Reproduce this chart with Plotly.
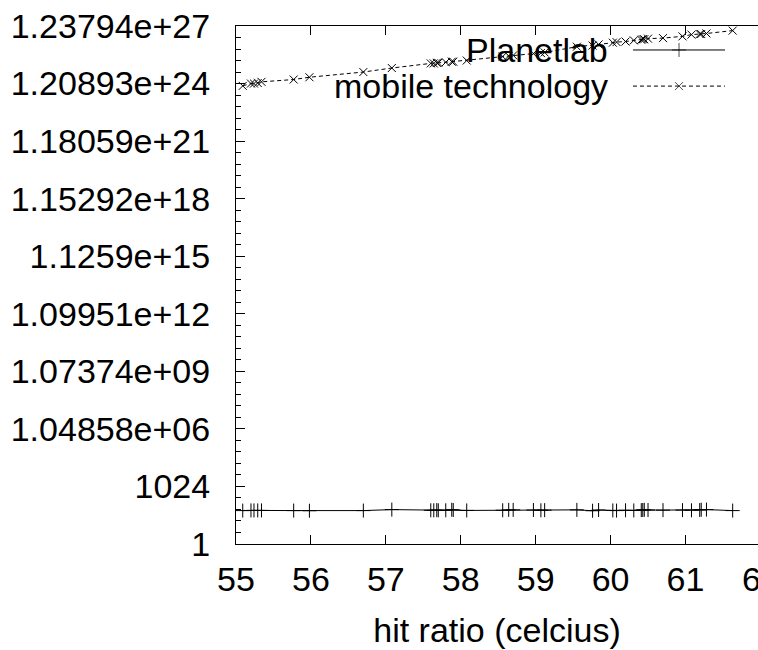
import plotly.graph_objects as go

# ---- data ----
hit_ratio = [55.09, 55.20, 55.24, 55.29, 55.34, 55.77, 55.98, 56.70, 57.08, 57.60,
             57.64, 57.68, 57.70, 57.80, 57.88, 57.90, 58.08, 58.56, 58.64, 58.70,
             58.97, 59.07, 59.12, 59.55, 59.76, 59.84, 60.03, 60.08, 60.20, 60.31,
             60.41, 60.43, 60.45, 60.50, 60.70, 60.96, 61.08, 61.19, 61.21, 61.28,
             61.63]

planetlab = [56, 57, 57, 57, 57, 56, 55, 56, 63, 58,
             58, 59, 58, 58, 62, 60, 57, 58, 61, 61,
             60, 58, 59, 61, 55, 60, 57, 56, 58, 57,
             59, 60, 61, 60, 59, 59, 58, 60, 62, 63,
             56]

mobile_technology = [9.16e23, 1.21e24, 1.21e24, 1.296e24, 1.488e24, 1.964e24, 2.591e24, 4.836e24, 7.856e24, 1.368e25,
                     1.368e25, 1.466e25, 1.466e25, 1.571e25, 1.684e25, 1.684e25, 1.934e25, 3.142e25, 3.368e25, 3.610e25,
                     4.444e25, 4.763e25, 5.105e25, 1.021e26, 1.173e26, 1.347e26, 1.658e26, 1.778e26, 1.905e26, 2.188e26,
                     2.345e26, 2.514e26, 2.514e26, 2.694e26, 2.888e26, 3.555e26, 4.377e26, 4.691e26, 4.691e26, 5.028e26,
                     7.110e26]

series_names = ["Planetlab", "mobile technology"]

x_ticks = [55, 56, 57, 58, 59, 60, 61]
y_tick_labels = ["1", "1024", "1.04858e+06", "1.07374e+09", "1.09951e+12",
                 "1.1259e+15", "1.15292e+18", "1.18059e+21", "1.20893e+24", "1.23794e+27"]
x_title = "hit ratio (celcius)"

# ---- figure ----
FONT = "Liberation Sans, Arial, Helvetica, sans-serif"
y_tick_vals = [2.0 ** (10 * i) for i in range(len(y_tick_labels))]
y_minor_vals = [2.0 ** k for k in range(0, 91, 2) if k % 10 != 0]

fig = go.Figure()
fig.add_trace(go.Scatter(
    x=hit_ratio, y=planetlab, mode="lines+markers", name=series_names[0],
    line=dict(color="black", width=1),
    marker=dict(symbol="cross-thin-open", size=10, line=dict(color="black", width=1)),
    showlegend=False, cliponaxis=False))
fig.add_trace(go.Scatter(
    x=hit_ratio, y=mobile_technology, mode="lines+markers", name=series_names[1],
    line=dict(color="black", width=1, dash="4px,3px"),
    marker=dict(symbol="x-thin-open", size=8, line=dict(color="black", width=1)),
    showlegend=False, cliponaxis=False))

# legend samples (gnuplot-style key: text left, sample right), on a hidden overlay axis
key_x = [0.7605, 0.8487, 0.9368]
fig.add_trace(go.Scatter(
    x=key_x, y=[0.9537] * 3, mode="lines+markers",
    line=dict(color="black", width=1),
    marker=dict(symbol="cross-thin-open", size=[0, 10, 0], line=dict(color="black", width=1)),
    xaxis="x2", yaxis="y2", showlegend=False, hoverinfo="skip"))
fig.add_trace(go.Scatter(
    x=key_x, y=[0.884] * 3, mode="lines+markers",
    line=dict(color="black", width=1, dash="4px,3px"),
    marker=dict(symbol="x-thin-open", size=[0, 8, 0], line=dict(color="black", width=1)),
    xaxis="x2", yaxis="y2", showlegend=False, hoverinfo="skip"))

annotations = [
    dict(text=series_names[0], xref="paper", yref="paper", x=0.7165, y=0.9537,
         xanchor="right", yanchor="middle", showarrow=False,
         font=dict(family=FONT, size=34, color="black")),
    dict(text=series_names[1], xref="paper", yref="paper", x=0.7165, y=0.884,
         xanchor="right", yanchor="middle", showarrow=False,
         font=dict(family=FONT, size=34, color="black")),
    # partially visible label of the next x tick (62), cut by the page edge
    dict(text="62", xref="paper", yref="paper", x=1.0057, y=-0.0676,
         xanchor="center", yanchor="middle", showarrow=False,
         font=dict(family=FONT, size=34, color="black")),
]

fig.update_layout(
    width=758, height=650,
    margin=dict(l=236, r=0, t=26, b=106, pad=0),
    paper_bgcolor="white", plot_bgcolor="white",
    font=dict(family=FONT, size=34, color="black"),
    showlegend=False,
    annotations=annotations,
    xaxis=dict(
        range=[55, 61.968], tickmode="array", tickvals=x_ticks,
        ticks="inside", ticklen=9, tickwidth=1, tickcolor="black",
        showline=True, linecolor="black", linewidth=1, mirror="ticks",
        showgrid=False, zeroline=False,
        tickfont=dict(family=FONT, size=34, color="black"),
        ticklabelstandoff=5,
        title=dict(text=x_title, font=dict(family=FONT, size=34, color="black"), standoff=21),
    ),
    yaxis=dict(
        type="log", range=[0, 27.0927], tickmode="array",
        tickvals=y_tick_vals, ticktext=y_tick_labels,
        ticks="inside", ticklen=9, tickwidth=1, tickcolor="black",
        minor=dict(tickmode="array", tickvals=y_minor_vals, ticks="inside",
                   ticklen=5, tickwidth=1, tickcolor="black", showgrid=False),
        showline=True, linecolor="black", linewidth=1, mirror=False,
        showgrid=False, zeroline=False,
        tickfont=dict(family=FONT, size=34, color="black"),
        ticklabelstandoff=18,
    ),
    xaxis2=dict(range=[0, 1], overlaying="x", visible=False, fixedrange=True),
    yaxis2=dict(range=[0, 1], overlaying="y", anchor="x2", visible=False, fixedrange=True),
)

fig.write_html("out.html")
